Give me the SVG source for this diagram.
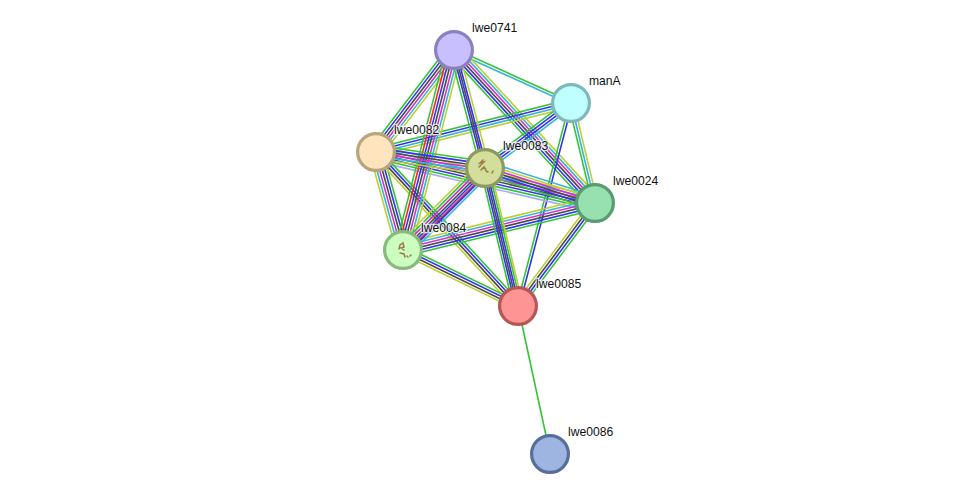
<svg xmlns="http://www.w3.org/2000/svg" width="975" height="499" viewBox="0 0 975 499">
<style>
  line { stroke-width: 1.6; fill: none; }
  .g { stroke: #35c435; }
  .b { stroke: #3333ee; }
  .k { stroke: #4a4a4a; }
  .m { stroke: #d030d0; }
  .c { stroke: #35b5d5; }
  .y { stroke: #bccf35; }
  .r { stroke: #f52a2a; }
  .l { stroke: #a9a9f5; }
  .disc { stroke-width: 3.2; }
  .fold { fill: none; stroke: #9a7a4a; stroke-width: 1.5; stroke-linecap: round; }
  text { font-family: "Liberation Sans", Arial, sans-serif; font-size: 12.15px; fill: #111; stroke: #fff; stroke-width: 2.5px; stroke-opacity: .75; paint-order: stroke; }
</style>
<rect width="975" height="499" fill="#fff"/>
<g id="connectors">
  <!-- each band runs along local x from the first protein to the second; lines are offset along local y -->
  <g transform="translate(454 50) rotate(24.37)"><line class="g" x2="128.4" y1="-1.3" y2="-1.3"/><line class="c" x2="128.4" y1="1.3" y2="1.3"/></g>
  <g transform="translate(454 50) rotate(127.4)"><line class="g" x2="128.4" y1="6.5" y2="6.5"/><line class="b" x2="128.4" y1="3.9" y2="3.9"/><line class="k" x2="128.4" y1="1.3" y2="1.3"/><line class="m" x2="128.4" y1="-1.3" y2="-1.3"/><line class="c" x2="128.4" y1="-3.9" y2="-3.9"/><line class="y" x2="128.4" y1="-6.5" y2="-6.5"/></g>
  <g transform="translate(454 50) rotate(47.34)"><line class="g" x2="208.1" y1="6.5" y2="6.5"/><line class="b" x2="208.1" y1="3.9" y2="3.9"/><line class="k" x2="208.1" y1="1.3" y2="1.3"/><line class="m" x2="208.1" y1="-1.3" y2="-1.3"/><line class="c" x2="208.1" y1="-3.9" y2="-3.9"/><line class="y" x2="208.1" y1="-6.5" y2="-6.5"/></g>
  <g transform="translate(571 103) rotate(165.9)"><line class="g" x2="201.1" y1="3.9" y2="3.9"/><line class="b" x2="201.1" y1="1.3" y2="1.3"/><line class="c" x2="201.1" y1="-1.3" y2="-1.3"/><line class="y" x2="201.1" y1="-3.9" y2="-3.9"/></g>
  <g transform="translate(571 103) rotate(76.5)"><line class="g" x2="102.8" y1="2.6" y2="2.6"/><line class="c" x2="102.8" y1="0" y2="0"/><line class="y" x2="102.8" y1="-2.6" y2="-2.6"/></g>
  <g transform="translate(571 103) rotate(104.63)"><line class="g" x2="209.8" y1="1.3" y2="1.3"/><line class="b" x2="209.8" y1="-1.3" y2="-1.3"/></g>
  <g transform="translate(376 152) rotate(13.11)"><line class="y" x2="224.9" y1="-6.5" y2="-6.5"/><line class="c" x2="224.9" y1="-3.9" y2="-3.9"/><line class="m" x2="224.9" y1="-1.3" y2="-1.3"/><line class="k" x2="224.9" y1="1.3" y2="1.3"/><line class="b" x2="224.9" y1="3.9" y2="3.9"/><line class="g" x2="224.9" y1="6.5" y2="6.5"/><line class="l" x2="224.9" y1="9.1" y2="9.1"/></g>
  <g transform="translate(376 152) rotate(74.6)"><line class="y" x2="101.7" y1="6.5" y2="6.5"/><line class="c" x2="101.7" y1="3.9" y2="3.9"/><line class="m" x2="101.7" y1="1.3" y2="1.3"/><line class="k" x2="101.7" y1="-1.3" y2="-1.3"/><line class="b" x2="101.7" y1="-3.9" y2="-3.9"/><line class="g" x2="101.7" y1="-6.5" y2="-6.5"/></g>
  <g transform="translate(376 152) rotate(47.32)"><line class="y" x2="209.5" y1="3.9" y2="3.9"/><line class="k" x2="209.5" y1="1.3" y2="1.3"/><line class="b" x2="209.5" y1="-1.3" y2="-1.3"/><line class="g" x2="209.5" y1="-3.9" y2="-3.9"/></g>
  <g transform="translate(595 203) rotate(166.25)"><line class="y" x2="197.7" y1="6.5" y2="6.5"/><line class="c" x2="197.7" y1="3.9" y2="3.9"/><line class="m" x2="197.7" y1="1.3" y2="1.3"/><line class="k" x2="197.7" y1="-1.3" y2="-1.3"/><line class="b" x2="197.7" y1="-3.9" y2="-3.9"/><line class="g" x2="197.7" y1="-6.5" y2="-6.5"/></g>
  <g transform="translate(595 203) rotate(126.8)"><line class="y" x2="128.6" y1="3.9" y2="3.9"/><line class="k" x2="128.6" y1="1.3" y2="1.3"/><line class="b" x2="128.6" y1="-1.3" y2="-1.3"/><line class="g" x2="128.6" y1="-3.9" y2="-3.9"/></g>
  <g transform="translate(403 250) rotate(25.97)"><line class="g" x2="127.9" y1="-3.9" y2="-3.9"/><line class="b" x2="127.9" y1="-1.3" y2="-1.3"/><line class="k" x2="127.9" y1="1.3" y2="1.3"/><line class="y" x2="127.9" y1="3.9" y2="3.9"/></g>
  <g transform="translate(454 50) rotate(104.3)"><line class="g" x2="206.4" y1="7.8" y2="7.8"/><line class="r" x2="206.4" y1="5.2" y2="5.2"/><line class="b" x2="206.4" y1="2.6" y2="2.6"/><line class="k" x2="206.4" y1="0" y2="0"/><line class="m" x2="206.4" y1="-2.6" y2="-2.6"/><line class="c" x2="206.4" y1="-5.2" y2="-5.2"/><line class="y" x2="206.4" y1="-7.8" y2="-7.8"/></g>
  <g transform="translate(454 50) rotate(75.28)"><line class="g" x2="122" y1="4.4" y2="4.4"/><line class="b" x2="122" y1="1.8" y2="1.8"/><line class="k" x2="122" y1="0" y2="0"/><line class="b" x2="122" y1="-1.8" y2="-1.8"/><line class="y" x2="122" y1="-4.4" y2="-4.4"/></g>
  <g transform="translate(571 103) rotate(142.92)"><line class="g" x2="107.8" y1="3.9" y2="3.9"/><line class="b" x2="107.8" y1="1.3" y2="1.3"/><line class="b" x2="107.8" y1="-1.3" y2="-1.3"/><line class="c" x2="107.8" y1="-3.9" y2="-3.9"/></g>
  <g transform="translate(376 152) rotate(8.35)"><line class="g" x2="110.2" y1="-6.5" y2="-6.5"/><line class="b" x2="110.2" y1="-3.9" y2="-3.9"/><line class="k" x2="110.2" y1="-1.3" y2="-1.3"/><line class="m" x2="110.2" y1="1.3" y2="1.3"/><line class="c" x2="110.2" y1="3.9" y2="3.9"/><line class="y" x2="110.2" y1="6.5" y2="6.5"/></g>
  <g transform="translate(485 168) rotate(17.65)"><line class="c" x2="115.4" y1="-6.5" y2="-6.5"/><line class="y" x2="115.4" y1="-3.9" y2="-3.9"/><line class="m" x2="115.4" y1="-1.3" y2="-1.3"/><line class="k" x2="115.4" y1="1.3" y2="1.3"/><line class="b" x2="115.4" y1="3.9" y2="3.9"/><line class="g" x2="115.4" y1="6.5" y2="6.5"/></g>
  <g transform="translate(485 168) rotate(135)"><line class="y" x2="116" y1="7.8" y2="7.8"/><line class="g" x2="116" y1="5.2" y2="5.2"/><line class="m" x2="116" y1="2.6" y2="2.6"/><line class="k" x2="116" y1="0" y2="0"/><line class="b" x2="116" y1="-2.2" y2="-2.2"/><line class="r" x2="116" y1="-4.2" y2="-4.2"/><line class="b" x2="116" y1="-5.4" y2="-5.4"/><line class="c" x2="116" y1="-7.8" y2="-7.8"/></g>
  <g transform="translate(485 168) rotate(76.55)"><line class="g" x2="141.9" y1="4.6" y2="4.6"/><line class="b" x2="141.9" y1="2.4" y2="2.4"/><line class="k" x2="141.9" y1="0.6" y2="0.6"/><line class="b" x2="141.9" y1="-1.2" y2="-1.2"/><line class="g" x2="141.9" y1="-3.2" y2="-3.2"/><line class="y" x2="141.9" y1="-5" y2="-5"/></g>
  <g transform="translate(518 306) rotate(77.8)"><line class="g" x2="151.4"/></g>
</g>
<g id="lwe0741"><circle class="disc" cx="454" cy="50" r="18.4" fill="#c8bfff" stroke="#8d80bf"/><text x="472" y="32">lwe0741</text></g>
<g id="manA"><circle class="disc" cx="571" cy="103" r="18.4" fill="#bfffff" stroke="#7fb8bb"/><text x="589" y="85">manA</text></g>
<g id="lwe0082"><circle class="disc" cx="376" cy="152" r="18.4" fill="#ffe4bd" stroke="#b9a57d"/><text x="394" y="134">lwe0082</text></g>
<g id="lwe0083"><circle class="disc" cx="485" cy="168" r="18.4" fill="#d2de9a" stroke="#8c9a62"/>
  <path class="fold" d="M479 167l5-5l-4 1l3-3M481 170l3-3l2 3M486 171l2 1M492 173l1-2"/><text x="503" y="150">lwe0083</text></g>
<g id="lwe0024"><circle class="disc" cx="595" cy="203" r="18.4" fill="#97e0b0" stroke="#589c72"/><text x="613" y="185">lwe0024</text></g>
<g id="lwe0084"><circle class="disc" cx="403" cy="250" r="18.4" fill="#ccffbf" stroke="#88ba7d"/>
  <path class="fold" d="M399 249l1-4l3-2l1 4l-3 1l3 2M400 253l4 1l1 3M407 256l1 1M410 256l1-1"/><text x="421" y="232">lwe0084</text></g>
<g id="lwe0085"><circle class="disc" cx="518" cy="306" r="18.4" fill="#ff9494" stroke="#b85555"/><text x="536" y="288">lwe0085</text></g>
<g id="lwe0086"><circle class="disc" cx="550" cy="454" r="18.4" fill="#9db5e0" stroke="#566e9c"/><text x="568" y="436">lwe0086</text></g>
</svg>
